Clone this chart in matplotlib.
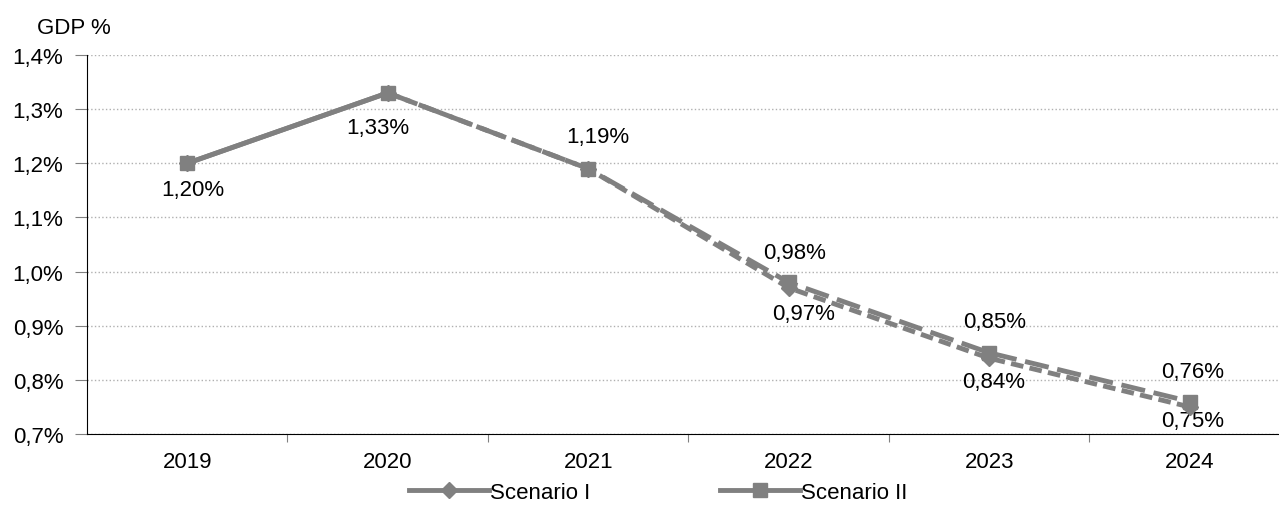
import matplotlib.pyplot as plt
from matplotlib.ticker import FuncFormatter, MultipleLocator

years = ['2019', '2020', '2021', '2022', '2023', '2024']
scenario1 = [1.20, 1.33, 1.19, 0.97, 0.84, 0.75]
scenario2 = [1.20, 1.33, 1.19, 0.98, 0.85, 0.76]

# which series gets a label at each year, and where it sits (pixels)
lab1 = [(6, -26), (-10, -35), None, (15, -26), (4, -23), (3, -14)]
lab2 = [None, None, (10, 32), (6, 30), (5, 31), (3, 30)]

plt.rcParams['font.family'] = ['Liberation Sans', 'DejaVu Sans']
plt.rcParams['font.size'] = 16

grey = '#808080'
fig = plt.figure(figsize=(12.79, 5.06), dpi=100)
ax = fig.add_axes([87 / 1279, 1 - 435 / 506, 1203 / 1279, 379 / 506])

x = list(range(len(years)))

def draw(vals, marker, ms, dashes, name, labs, z):
    # first year is actual data, solid; the rest is projected, dashed
    ax.plot(x[:2], vals[:2], color=grey, lw=3.5, solid_capstyle='butt', zorder=z)
    ax.plot(x[1:], vals[1:], color=grey, lw=3.5, dashes=dashes, dash_capstyle='butt', zorder=z)
    ax.plot(x, vals, ls='none', marker=marker, ms=ms, color=grey, zorder=z + 0.5)
    ax.plot([], [], color=grey, lw=3.5, marker=marker, ms=ms, label=name)
    for i, v in enumerate(vals):
        if labs[i] is None:
            continue
        ax.annotate(('%.2f%%' % v).replace('.', ','), (i, v), xytext=labs[i],
                    textcoords='offset pixels', ha='center', va='center')

draw(scenario1, 'D', 8, (2.6, 1.3), 'Scenario I', lab1, 3)
draw(scenario2, 's', 10.5, (5, 1.8), 'Scenario II', lab2, 4)

ax.set_xlim(-0.5, len(years) - 0.5)
ax.set_ylim(0.7, 1.4)
ax.yaxis.set_major_locator(MultipleLocator(0.1))
ax.yaxis.set_major_formatter(FuncFormatter(lambda v, p: ('%.1f%%' % v).replace('.', ',')))
ax.grid(axis='y', color='#b0b0b0', ls=':', lw=1)
ax.set_axisbelow(True)

ax.set_xticks([i + 0.5 for i in x[:-1]])
ax.set_xticklabels([])
ax.set_xticks(x, minor=True)
ax.set_xticklabels(years, minor=True)
ax.tick_params(axis='x', which='major', length=6, direction='out', color='#808080')
ax.tick_params(axis='x', which='minor', length=0, pad=12)
ax.tick_params(axis='y', length=9, direction='out', color='#808080', pad=8)

for s in ['top', 'right']:
    ax.spines[s].set_visible(False)

fig.text(37 / 1279, 1 - 28 / 506, 'GDP %', ha='left', va='center')
ax.legend(loc='center', bbox_to_anchor=(0.475, -0.155), ncol=2, frameon=False,
          columnspacing=5.85, handlelength=3.6, handletextpad=0.05, borderaxespad=0)

fig.savefig('out.png', dpi=100)
